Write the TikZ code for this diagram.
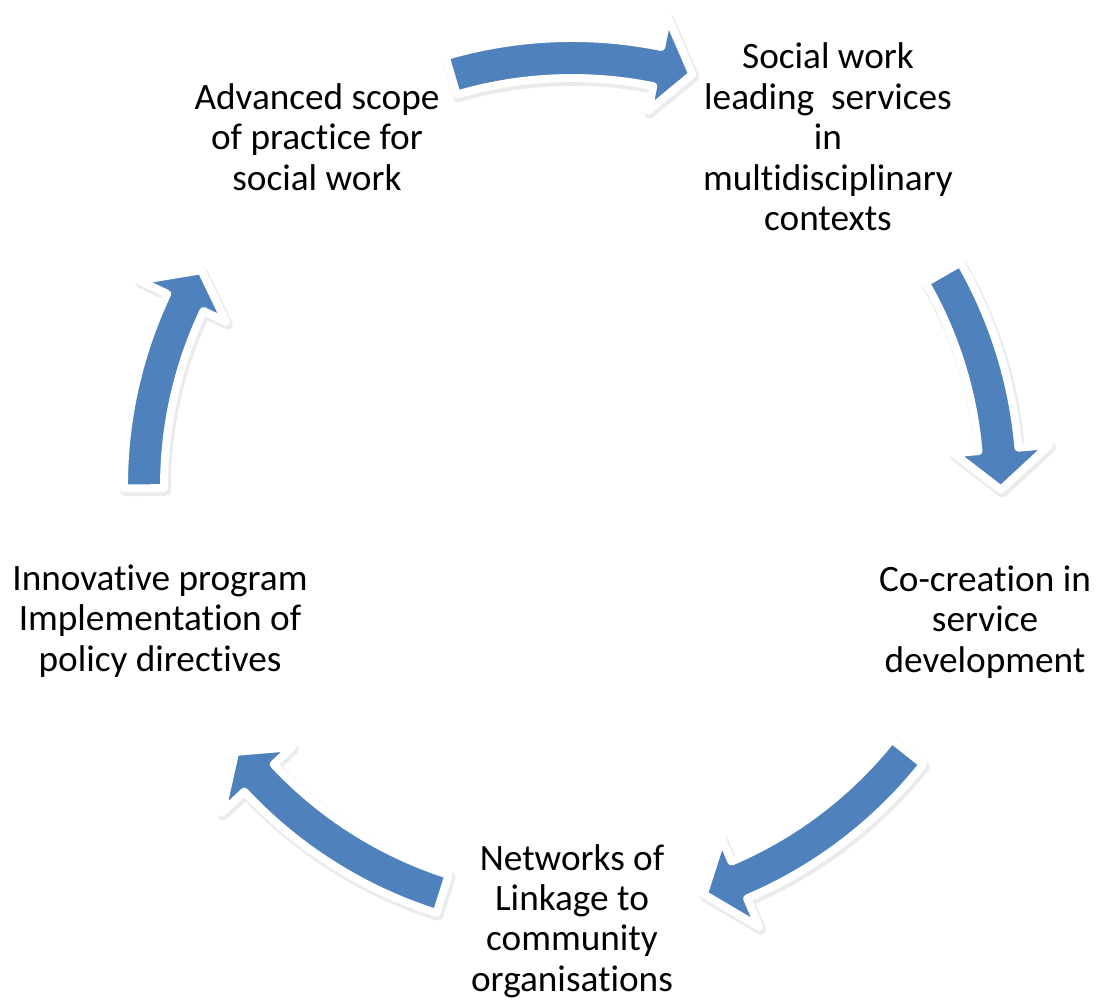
\documentclass[tikz,border=0pt]{standalone}
\usepackage{fontspec}
\setmainfont{Carlito}[Ligatures=NoCommon]
\usepackage{tikz}
\usetikzlibrary{positioning}
\definecolor{arrowblue}{HTML}{4F81BD}

\begin{document}
\begin{tikzpicture}[x=0.02cm,y=0.02cm]
\tikzset{txt/.style={align=center, font=\fontsize{21.2pt}{23pt}\selectfont, inner sep=0pt}}
\tikzset{cyc/.style={fill=arrowblue, draw=white, line width=4.5pt, line join=round}}
\tikzset{cycshade/.style={fill=black, draw=black, line width=6pt, line join=round, opacity=0.08}}

\useasboundingbox (-572,-517) rectangle (525,486);

% curved arrows of the cycle: tail angle / head base angle / tip angle
\foreach \ta/\hb/\tp in {106.4/78.5/73.7, 29.9/4.9/-0.5, -38.4/-67/-72.1, -107.6/-137/-141.7, 180.3/154.6/149.8}
{
  \path[cycshade,shift={(1.5,-2.5)}] (\ta:448) arc[start angle=\ta, end angle=\hb, radius=448]
    -- (\hb:479) -- (\tp:429) -- (\hb:383) -- (\hb:408)
    arc[start angle=\hb, end angle=\ta, radius=408] -- cycle;
  \path[cyc] (\ta:448) arc[start angle=\ta, end angle=\hb, radius=448]
    -- (\hb:479) -- (\tp:429) -- (\hb:383) -- (\hb:408)
    arc[start angle=\hb, end angle=\ta, radius=408] -- cycle;
}

\begin{scope}[every node/.style={txt}]
\node (adv) at (-255,349) {Advanced scope\\of practice for\\social work};
\node (lead) at (256,349) {Social work\\leading\ \ services\\in\\multidisciplinary\\contexts};
\node (cocr) at (413,-136) {Co-creation in\\service\\development};
\node (netw) at (0,-435) {Networks of\\Linkage to\\community\\organisations};
\node (innov) at (-412,-135) {Innovative program\\Implementation of\\policy directives};
\end{scope}

\end{tikzpicture}
\end{document}
